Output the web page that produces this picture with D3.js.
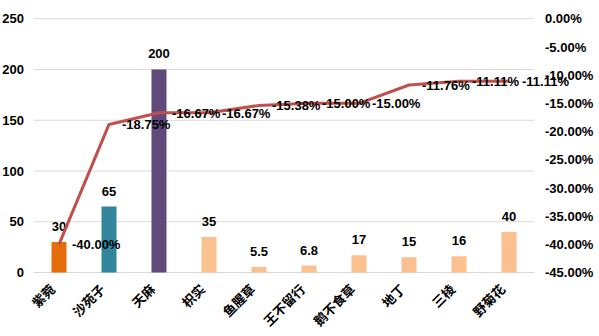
<!DOCTYPE html>
<html><head><meta charset="utf-8">
<script src="https://cdn.jsdelivr.net/npm/d3@7"></script>
<style>body{margin:0;background:#fff;}svg{display:block;}</style>
</head><body>
<svg id="c" width="599" height="336"></svg>
<script>
const categories = ["紫菀","沙苑子","天麻","枳实","鱼腥草","王不留行","鹅不食草","地丁","三棱","野菊花"];
const barValues = [30,65,200,35,5.5,6.8,17,15,16,40];
const lineValues = [-40.00,-18.75,-16.67,-16.67,-15.38,-15.00,-15.00,-11.76,-11.11,-11.11];
const barColors = ["#E46C0A","#31859C","#604A7B","#FAC090","#FAC090","#FAC090","#FAC090","#FAC090","#FAC090","#FAC090"];
const leftTicks = [0,50,100,150,200,250];
const rightTicks = [0,-5,-10,-15,-20,-25,-30,-35,-40,-45];

const svg = d3.select("#c");
const L = 34, R = 534, T = 18.7, B = 272.5;
const x = d3.scaleBand().domain(categories).range([L,R]).paddingInner(0.7).paddingOuter(0.35);
const xc = d => x(d) + x.bandwidth()/2;
const y = d3.scaleLinear().domain([0,250]).range([B,T]);
const y2 = d3.scaleLinear().domain([-45,0]).range([B,T]);
const font = "'Liberation Sans', Arial, sans-serif";

// gridlines
svg.append("g").selectAll("line").data(leftTicks).join("line")
  .attr("x1",L).attr("x2",R).attr("y1",d=>y(d)).attr("y2",d=>y(d))
  .attr("stroke","#D9D9D9").attr("stroke-width",1);

// left axis
const ga = svg.append("g").attr("transform",`translate(${L},0)`)
  .call(d3.axisLeft(y).tickValues(leftTicks).tickSize(0).tickPadding(10));
ga.select(".domain").remove();
ga.selectAll("text").attr("font-family",font).attr("font-weight","bold").attr("font-size",13).attr("fill","#000");

// right axis
const gr = svg.append("g").attr("transform",`translate(${R},0)`)
  .call(d3.axisRight(y2).tickValues(rightTicks).tickSize(0).tickPadding(11).tickFormat(d=>d.toFixed(2)+"%"));
gr.select(".domain").remove();
gr.selectAll("text").attr("font-family",font).attr("font-weight","bold").attr("font-size",13).attr("fill","#000");

// bars
svg.append("g").selectAll("rect").data(barValues).join("rect")
  .attr("x",(d,i)=>x(categories[i])).attr("width",x.bandwidth())
  .attr("y",d=>y(d)).attr("height",d=>B-y(d))
  .attr("fill",(d,i)=>barColors[i]);

// bar labels
svg.append("g").selectAll("text").data(barValues).join("text")
  .attr("x",(d,i)=>xc(categories[i])).attr("y",d=>y(d)-11)
  .attr("text-anchor","middle").attr("font-family",font).attr("font-weight","bold")
  .attr("font-size",13).attr("fill","#000").text(d=>d);

// line
const line = d3.line().x((d,i)=>xc(categories[i])).y(d=>y2(d));
svg.append("path").datum(lineValues).attr("d",line)
  .attr("fill","none").attr("stroke","#C0504D").attr("stroke-width",3).attr("stroke-linejoin","round");

// line labels
svg.append("g").selectAll("text").data(lineValues).join("text")
  .attr("x",(d,i)=>xc(categories[i])+13).attr("y",d=>y2(d)+5)
  .attr("font-family",font).attr("font-weight","bold").attr("font-size",13).attr("fill","#000")
  .text(d=>d.toFixed(2)+"%");

// x labels
svg.append("g").selectAll("text").data(categories).join("text")
  .attr("transform",d=>`translate(${xc(d)-6},${287}) rotate(-45)`)
  .attr("text-anchor","end").attr("dy","0.35em")
  .attr("font-family","'Noto Sans CJK SC', sans-serif").attr("font-weight","bold")
  .attr("font-size",13).attr("fill","#000").text(d=>d);
</script>
</body></html>
